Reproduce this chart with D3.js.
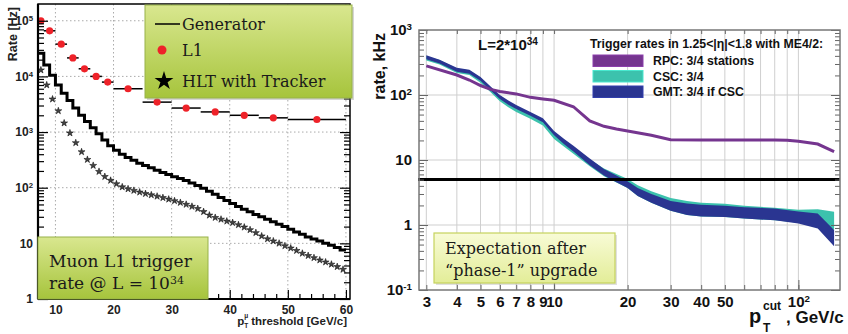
<!DOCTYPE html>
<html>
<head>
<meta charset="utf-8">
<script src="https://cdn.jsdelivr.net/npm/d3@7"></script>
<style>
  body { margin: 0; background: #fff; }
  svg { display: block; }
</style>
</head>
<body>
<svg id="chart" width="848" height="334"></svg>
<script>
// ---------- left panel: muon L1 trigger rate [Hz] vs pT threshold ----------
const genLo = [7, 8, 9, 10, 11, 12, 13, 14, 15, 16, 17, 18, 19, 20, 21, 22, 23, 24, 25, 26,
  27, 28, 29, 30, 31, 32, 33, 34, 35, 36, 37, 38, 39, 40, 41, 42, 43, 44, 45, 46,
  47, 48, 49, 50, 51, 52, 53, 54, 55, 56, 57, 58, 59];
const genRate = [26000, 16000, 10500, 7000, 5000, 3700, 2700, 2000, 1550, 1200, 930, 720, 570, 470, 400, 350, 310, 275, 250, 228,
  205, 188, 172, 158, 146, 135, 122, 110, 98, 86, 76, 67, 59, 52, 46, 41, 37, 33, 30, 27,
  24.5, 22, 20, 18, 16, 14.5, 13, 12, 11, 10, 9.2, 8.4, 7.6];

const hltPt = [7.5, 8.5, 9.5, 10.5, 11.5, 12.5, 13.5, 14.5, 15.5, 16.5, 17.5, 18.5, 19.5, 20.5, 21.5, 22.5, 23.5, 24.5, 25.5, 26.5,
  27.5, 28.5, 29.5, 30.5, 31.5, 32.5, 33.5, 34.5, 35.5, 36.5, 37.5, 38.5, 39.5, 40.5, 41.5, 42.5, 43.5, 44.5, 45.5, 46.5,
  47.5, 48.5, 49.5, 50.5, 51.5, 52.5, 53.5, 54.5, 55.5, 56.5, 57.5, 58.5, 59.5];
const hltRate = [13000, 7000, 3900, 2400, 1450, 960, 640, 440, 320, 250, 195, 158, 135, 117, 103, 95, 89, 83, 78, 74,
  70, 66, 62, 58, 54, 50, 46, 42, 37, 32, 29, 27, 25, 23.5, 21.5, 19.5, 17.5, 15.5, 13.5, 12,
  11, 10, 9, 8.2, 7.4, 6.6, 6, 5.5, 5, 4.6, 4.2, 3.8, 3.4];

const l1Lo = [7, 8, 10, 12, 14, 16, 18, 20, 25, 30, 35, 40, 45, 50];
const l1Hi = [8, 10, 12, 14, 16, 18, 20, 25, 30, 35, 40, 45, 50, 60];
const l1Rate = [100000, 66000, 38000, 21500, 13700, 10000, 7900, 6000, 3450, 2700, 2300, 2000, 1800, 1680];

const xTicksL = [10, 20, 30, 40, 50, 60];
const yTicksL = [1, 10, 100, 1000, 10000, 100000];

// ---------- right panel: trigger rates [kHz] vs pT cut ----------
const rpcPt = [3, 4, 4.5, 5, 5.5, 6, 7, 8, 9, 10, 12, 14, 16, 18, 20, 25, 30, 40, 50, 60, 70, 80, 90, 100, 120, 140];
const rpcRate = [280, 203, 170, 140, 122, 113, 104, 92, 87, 83, 66, 40, 33, 30, 28, 24, 20.5, 20.3, 20.3, 20.3, 20.3, 20.3, 20.2, 19.5, 17.6, 13.5];

const bandPt = [3, 3.4, 4, 4.5, 5, 5.5, 6, 6.5, 7, 8, 9, 10, 11, 12, 14, 16, 18, 20, 22, 25, 30, 35, 40, 50, 60, 80, 100, 120, 140];
const gmtHigh = [410, 350, 262, 245, 190, 135, 100, 82, 70, 55, 44, 28, 21, 16.5, 10.5, 7.3, 5.8, 4.7, 3.7, 3.0, 2.35, 2.15, 2.05, 1.97, 1.88, 1.8, 1.62, 1.5, 0.84];
const gmtLow = [355, 304, 228, 213, 165, 117, 87, 71, 61, 48, 38, 24, 17.5, 13.5, 8.3, 5.75, 4.55, 3.7, 2.8, 2.2, 1.65, 1.43, 1.35, 1.33, 1.26, 1.18, 1.05, 0.88, 0.47];
const cscHigh = [395, 345, 255, 240, 185, 130, 96, 78, 66, 52, 41, 26, 19.5, 15.5, 10.2, 7.4, 6.1, 5.1, 4.1, 3.3, 2.6, 2.35, 2.2, 2.12, 1.98, 1.84, 1.72, 1.75, 1.6];
const cscLow = [340, 295, 218, 203, 155, 110, 80, 65, 55, 43, 34, 21, 16, 12.5, 8.0, 5.6, 4.5, 3.7, 2.8, 2.2, 1.65, 1.43, 1.35, 1.33, 1.26, 1.18, 1.08, 1.2, 0.84];
const expectedRate = 5;

const xTicksR = [3, 4, 5, 6, 7, 8, 9, 10, 20, 30, 40, 50, 100];
const yTicksR = [0.1, 1, 10, 100, 1000];

const SANS = "'Liberation Sans', Arial, sans-serif";
const SERIF = "'DejaVu Serif', serif";

const svg = d3.select("#chart");
const defs = svg.append("defs");

function grad(id, c1, c2) {
  const g = defs.append("linearGradient").attr("id", id).attr("x1", 0).attr("y1", 0).attr("x2", 0).attr("y2", 1);
  g.append("stop").attr("offset", "0%").attr("stop-color", c1);
  g.append("stop").attr("offset", "100%").attr("stop-color", c2);
}
grad("green", "#d9e78f", "#a6c43c");
grad("yellow", "#f8fbd6", "#e3ed98");

// powers of ten written as 10 with a raised exponent
function powLabel(text, v) {
  const e = Math.round(Math.log10(v));
  text.text(null);
  if (e === 0) text.text("1");
  else if (e === 1) text.text("10");
  else {
    text.append("tspan").text("10");
    text.append("tspan").attr("dy", "-0.5em").attr("font-size", "0.65em").text(e);
  }
}

function decadeMinors(lo, hi) {
  const out = [];
  for (let d = lo; d < hi; d *= 10)
    for (let k = 2; k <= 9; k++) if (d * k <= hi) out.push(d * k);
  return out;
}

// ================= LEFT =================
const xL = d3.scaleLinear().domain([7, 60.7]).range([38, 350]);
const yL = d3.scaleLog().domain([1, 2e5]).range([299, 4]);
const [lx0, lx1] = xL.range(), [ly0, ly1] = yL.range();
const L = svg.append("g");

// dotted grid
L.append("g").selectAll("line").data(xTicksL).join("line")
  .attr("x1", d => xL(d)).attr("x2", d => xL(d)).attr("y1", ly1).attr("y2", ly0)
  .attr("stroke", "#aaa").attr("stroke-dasharray", "1.5,2.5");
L.append("g").selectAll("line").data(yTicksL.slice(1)).join("line")
  .attr("x1", lx0).attr("x2", lx1).attr("y1", d => yL(d)).attr("y2", d => yL(d))
  .attr("stroke", "#aaa").attr("stroke-dasharray", "1.5,2.5");

// generator histogram
const genPts = genLo.map((x, i) => [x, genRate[i]]);
genPts.push([60, genRate[genRate.length - 1]]);
L.append("path").datum(genPts)
  .attr("fill", "none").attr("stroke", "#000").attr("stroke-width", 3)
  .attr("d", d3.line().x(d => xL(d[0])).y(d => yL(d[1])).curve(d3.curveStepAfter));

// HLT stars
L.append("g").selectAll("path").data(hltPt).join("path")
  .attr("transform", (d, i) => `translate(${xL(d)},${yL(hltRate[i])})`)
  .attr("d", d3.symbol().type(d3.symbolStar).size(15))
  .attr("fill", "#444").attr("stroke", "#000").attr("stroke-width", 0.5);

// L1 points with bin-width bars
const l1 = L.append("g").selectAll("g").data(l1Rate).join("g");
l1.append("line")
  .attr("x1", (d, i) => xL(l1Lo[i])).attr("x2", (d, i) => xL(l1Hi[i]))
  .attr("y1", d => yL(d)).attr("y2", d => yL(d))
  .attr("stroke", "#000").attr("stroke-width", 1.5);
l1.append("circle")
  .attr("cx", (d, i) => xL((l1Lo[i] + l1Hi[i]) / 2)).attr("cy", d => yL(d)).attr("r", 3.6)
  .attr("fill", "#ee2229");

// axes (ticks inside, ROOT style)
const axL = L.append("g").attr("transform", `translate(0,${ly0})`)
  .call(d3.axisBottom(xL).tickValues(xTicksL).tickSize(-9).tickSizeOuter(0).tickPadding(6));
L.append("g").attr("transform", `translate(0,${ly0})`)
  .call(d3.axisBottom(xL).tickValues(d3.range(8, 61, 2).filter(v => v % 10)).tickSize(-5).tickSizeOuter(0).tickFormat(""));
const ayL = L.append("g").attr("transform", `translate(${lx0},0)`)
  .call(d3.axisLeft(yL).tickValues(yTicksL).tickSize(-10).tickSizeOuter(0).tickPadding(5));
L.append("g").attr("transform", `translate(${lx0},0)`)
  .call(d3.axisLeft(yL).tickValues(decadeMinors(1, 1e5)).tickSize(-6).tickSizeOuter(0).tickFormat(""));
L.append("g").attr("transform", `translate(${lx1},0)`)
  .call(d3.axisRight(yL).tickValues(yTicksL).tickSize(-10).tickSizeOuter(0).tickFormat(""));
L.append("g").attr("transform", `translate(${lx1},0)`)
  .call(d3.axisRight(yL).tickValues(decadeMinors(1, 1e5)).tickSize(-6).tickSizeOuter(0).tickFormat(""));
L.selectAll(".domain").remove();
L.selectAll(".tick line").attr("stroke", "#000").attr("stroke-width", 1.2);
axL.selectAll("text").attr("font-family", SANS).attr("font-weight", "bold").attr("font-size", 12).attr("fill", "#222");
ayL.selectAll("text").attr("font-family", SANS).attr("font-weight", "bold").attr("font-size", 12).attr("fill", "#222")
  .each(function (d) { powLabel(d3.select(this), d); });

L.append("rect").attr("x", lx0).attr("y", ly1).attr("width", lx1 - lx0).attr("height", ly0 - ly1)
  .attr("fill", "none").attr("stroke", "#000").attr("stroke-width", 1.5);
L.append("line").attr("x1", lx0).attr("x2", lx0).attr("y1", ly1).attr("y2", ly0).attr("stroke", "#000").attr("stroke-width", 2.2);
L.append("line").attr("x1", lx0).attr("x2", lx1).attr("y1", ly0).attr("y2", ly0).attr("stroke", "#000").attr("stroke-width", 2.2);

// axis titles
L.append("text").attr("transform", "translate(17,7) rotate(-90)").attr("text-anchor", "end")
  .attr("font-family", SANS).attr("font-weight", "bold").attr("font-size", 12.5).attr("fill", "#222").text("Rate [Hz]");
const xtl = L.append("text").attr("x", 347).attr("y", 325).attr("text-anchor", "end")
  .attr("font-family", SANS).attr("font-weight", "bold").attr("font-size", 11.5).attr("fill", "#222").text("threshold [GeV/c]");
const xtlStart = 347 - xtl.node().getComputedTextLength();
L.append("text").attr("x", xtlStart - 14).attr("y", 325).attr("font-family", SANS).attr("font-weight", "bold")
  .attr("font-size", 11.5).attr("fill", "#222").text("p");
L.append("text").attr("x", xtlStart - 7).attr("y", 328).attr("font-family", SANS).attr("font-weight", "bold")
  .attr("font-size", 6.5).attr("fill", "#222").text("T");
L.append("text").attr("x", xtlStart - 7).attr("y", 318).attr("font-family", SANS).attr("font-weight", "bold")
  .attr("font-size", 6.5).attr("fill", "#222").text("μ");

// legend box
L.append("rect").attr("x", 147).attr("y", 7).attr("width", 207).attr("height", 93).attr("fill", "#888").attr("opacity", 0.35);
L.append("rect").attr("x", 145).attr("y", 5).attr("width", 207).attr("height", 93)
  .attr("fill", "url(#green)").attr("stroke", "#97b24a").attr("stroke-width", 1);
L.append("line").attr("x1", 155).attr("x2", 180).attr("y1", 24).attr("y2", 24).attr("stroke", "#000").attr("stroke-width", 1.5);
L.append("circle").attr("cx", 162).attr("cy", 50).attr("r", 4.5).attr("fill", "#ee2229");
L.append("path").attr("transform", "translate(164,81)").attr("d", d3.symbol().type(d3.symbolStar).size(110)).attr("fill", "#000");
const legL = [["Generator", 30], ["L1", 56], ["HLT with Tracker", 87]];
L.append("g").selectAll("text").data(legL).join("text")
  .attr("x", 182).attr("y", d => d[1]).attr("font-family", SERIF).attr("font-size", 16).attr("fill", "#1a1a1a").text(d => d[0]);

// "Muon L1 trigger" box
L.append("rect").attr("x", lx0).attr("y", 237).attr("width", 170).attr("height", ly0 - 237)
  .attr("fill", "url(#green)").attr("stroke", "#97b24a").attr("stroke-width", 1);
L.append("text").attr("x", 49).attr("y", 267).attr("font-family", SERIF).attr("font-size", 17).attr("fill", "#1a1a1a").text("Muon L1 trigger");
const rt = L.append("text").attr("x", 49).attr("y", 289).attr("font-family", SERIF).attr("font-size", 17).attr("fill", "#1a1a1a");
rt.append("tspan").text("rate @ L = 10");
rt.append("tspan").attr("dy", "-0.45em").attr("font-size", 11).text("34");

// ================= RIGHT =================
const xR = d3.scaleLog().domain([2.8, 148]).range([419, 840]);
const yR = d3.scaleLog().domain([0.1, 1000]).range([290, 30]);
const [rx0, rx1] = xR.range(), [ry0, ry1] = yR.range();
const R = svg.append("g");

const xGrid = [3, 4, 5, 6, 7, 8, 9, 10, 20, 30, 40, 50, 60, 70, 80, 90, 100];
R.append("g").selectAll("line").data(xGrid).join("line")
  .attr("x1", d => xR(d)).attr("x2", d => xR(d)).attr("y1", ry1).attr("y2", ry0)
  .attr("stroke", "#cfcfcf").attr("stroke-width", 1);
R.append("g").selectAll("line").data([1, 10, 100]).join("line")
  .attr("x1", rx0).attr("x2", rx1).attr("y1", d => yR(d)).attr("y2", d => yR(d))
  .attr("stroke", "#cfcfcf").attr("stroke-width", 1);

const band = (lo, hi) => d3.area().x(d => xR(d)).y0((d, i) => yR(lo[i])).y1((d, i) => yR(hi[i]));
R.append("path").datum(bandPt).attr("fill", "#3cc2ad").attr("d", band(cscLow, cscHigh));
R.append("path").datum(bandPt).attr("fill", "#2a3591").attr("d", band(gmtLow, gmtHigh));
R.append("path").datum(rpcPt).attr("fill", "none").attr("stroke", "#75358f").attr("stroke-width", 3)
  .attr("d", d3.line().x(d => xR(d)).y((d, i) => yR(rpcRate[i])));

R.append("line").attr("x1", rx0 - 1).attr("x2", rx1).attr("y1", yR(expectedRate)).attr("y2", yR(expectedRate))
  .attr("stroke", "#000").attr("stroke-width", 3);

// frame and ticks
const tickCol = "#666";
const axR = R.append("g").attr("transform", `translate(0,${ry0})`)
  .call(d3.axisBottom(xR).tickValues(xTicksR).tickSize(-5).tickSizeOuter(0).tickPadding(6).tickFormat(d => String(d)));
R.append("g").attr("transform", `translate(0,${ry0})`)
  .call(d3.axisBottom(xR).tickValues([60, 70, 80, 90]).tickSize(-5).tickSizeOuter(0).tickFormat(""));
R.append("g").attr("transform", `translate(0,${ry0})`)
  .call(d3.axisBottom(xR).tickValues([10, 100]).tickSize(-10).tickSizeOuter(0).tickFormat(""));
R.append("g").attr("transform", `translate(0,${ry1})`)
  .call(d3.axisTop(xR).tickValues(xGrid).tickSize(-4).tickSizeOuter(0).tickFormat(""));
const ayR = R.append("g").attr("transform", `translate(${rx0},0)`)
  .call(d3.axisLeft(yR).tickValues(yTicksR).tickSize(-9).tickSizeOuter(0).tickPadding(7));
R.append("g").attr("transform", `translate(${rx0},0)`)
  .call(d3.axisLeft(yR).tickValues(decadeMinors(0.1, 1000)).tickSize(-5).tickSizeOuter(0).tickFormat(""));
R.append("g").attr("transform", `translate(${rx1},0)`)
  .call(d3.axisRight(yR).tickValues(yTicksR).tickSize(-9).tickSizeOuter(0).tickFormat(""));
R.append("g").attr("transform", `translate(${rx1},0)`)
  .call(d3.axisRight(yR).tickValues(decadeMinors(0.1, 1000)).tickSize(-5).tickSizeOuter(0).tickFormat(""));
R.selectAll(".domain").remove();
R.selectAll(".tick line").attr("stroke", tickCol).attr("stroke-width", 1);
axR.selectAll("text").attr("font-family", SANS).attr("font-weight", "bold").attr("font-size", 15).attr("fill", "#111")
  .each(function (d) { if (d === 100) powLabel(d3.select(this), d); });
ayR.selectAll("text").attr("font-family", SANS).attr("font-weight", "bold").attr("font-size", 15).attr("fill", "#111")
  .each(function (d) { powLabel(d3.select(this), d); });
R.append("rect").attr("x", rx0).attr("y", ry1).attr("width", rx1 - rx0).attr("height", ry0 - ry1)
  .attr("fill", "none").attr("stroke", "#777").attr("stroke-width", 1.5);

// titles
R.append("text").attr("transform", "translate(385,33) rotate(-90)").attr("text-anchor", "end")
  .attr("font-family", SANS).attr("font-weight", "bold").attr("font-size", 16).attr("fill", "#111").text("rate, kHz");
const xtr = [["p", 749, 323, 20], ["cut", 763, 310, 12], ["T", 763, 332, 12], [", GeV/c", 786, 323, 17]];
R.append("g").selectAll("text").data(xtr).join("text")
  .attr("x", d => d[1]).attr("y", d => d[2]).attr("font-size", d => d[3])
  .attr("font-family", SANS).attr("font-weight", "bold").attr("fill", "#111").text(d => d[0]);

const lum = R.append("text").attr("x", 478).attr("y", 50).attr("font-family", SANS).attr("font-weight", "bold")
  .attr("font-size", 15).attr("fill", "#111");
lum.append("tspan").text("L=2*10");
lum.append("tspan").attr("dy", "-0.5em").attr("font-size", 10).text("34");

// legend
R.append("text").attr("x", 590).attr("y", 47.5).attr("font-family", SANS).attr("font-weight", "bold")
  .attr("font-size", 12.3).attr("fill", "#111").text("Trigger rates in 1.25<|η|<1.8 with ME4/2:");
const legR = [["RPC: 3/4 stations", "#75358f", 55], ["CSC: 3/4", "#3cc2ad", 70.5], ["GMT: 3/4 if CSC", "#2a3591", 86]];
const lr = R.append("g").selectAll("g").data(legR).join("g");
lr.append("rect").attr("x", 593).attr("y", d => d[2]).attr("width", 50).attr("height", 11.5)
  .attr("fill", d => d[1]).attr("stroke", d => d3.color(d[1]).brighter(0.5)).attr("stroke-width", 1);
lr.append("text").attr("x", 653).attr("y", d => d[2] + 10).attr("font-family", SANS).attr("font-weight", "bold")
  .attr("font-size", 12.3).attr("fill", "#111").text(d => d[0]);

// expectation box
R.append("rect").attr("x", 436).attr("y", 235).attr("width", 181).attr("height", 50).attr("fill", "#999").attr("opacity", 0.3);
R.append("rect").attr("x", 434).attr("y", 233).attr("width", 181).attr("height", 50)
  .attr("fill", "url(#yellow)").attr("stroke", "#c5d35d").attr("stroke-width", 1.2);
R.append("text").attr("x", 445).attr("y", 254).attr("font-family", SERIF).attr("font-size", 16).attr("fill", "#1a1a1a").text("Expectation after");
R.append("text").attr("x", 445).attr("y", 276).attr("font-family", SERIF).attr("font-size", 16).attr("fill", "#1a1a1a").text("“phase-1” upgrade");
</script>
</body>
</html>
